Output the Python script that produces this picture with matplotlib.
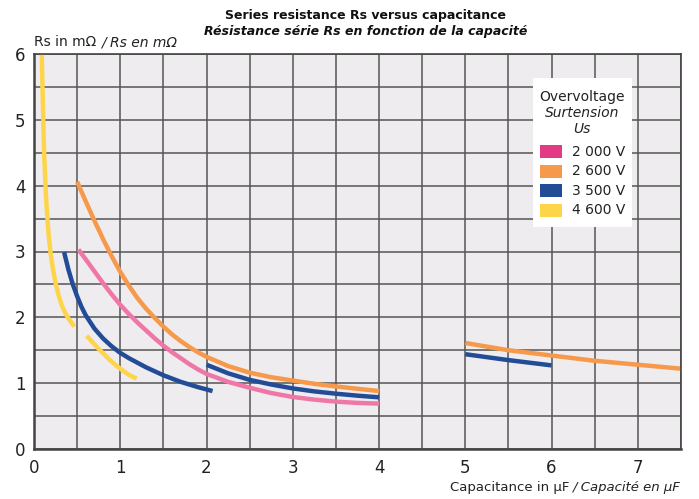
import matplotlib
matplotlib.use('Agg')
import matplotlib.pyplot as plt
from matplotlib.patches import Rectangle

# ---------------------------
# DATA
# ---------------------------
# 2 000 V
pink_x = [0.515, 0.60, 0.70, 0.80, 0.90, 1.00, 1.10, 1.20, 1.30, 1.40, 1.50, 1.60,
          1.70, 1.80, 1.90, 2.00, 2.25, 2.50, 2.75, 3.00, 3.25, 3.50, 3.75, 4.00]
pink_y = [3.03, 2.88, 2.70, 2.52, 2.35, 2.19, 2.05, 1.92, 1.80, 1.68, 1.57, 1.47,
          1.38, 1.29, 1.21, 1.14, 1.02, 0.93, 0.85, 0.79, 0.75, 0.72, 0.70, 0.69]

# 2 600 V
orange_x = [0.50, 0.60, 0.70, 0.80, 0.90, 1.00, 1.10, 1.20, 1.30, 1.40, 1.50, 1.60,
            1.70, 1.80, 1.90, 2.00, 2.25, 2.50, 2.75, 3.00, 3.25, 3.50, 3.75, 4.00]
orange_y = [4.06, 3.76, 3.47, 3.19, 2.93, 2.69, 2.48, 2.29, 2.13, 1.99, 1.86, 1.74,
            1.64, 1.55, 1.47, 1.40, 1.26, 1.16, 1.09, 1.04, 0.99, 0.95, 0.915, 0.88]
orange2_x = [5.0, 5.5, 6.0, 6.5, 7.0, 7.5]
orange2_y = [1.61, 1.50, 1.42, 1.34, 1.28, 1.22]

# 3 500 V
blue_x = [0.349, 0.40, 0.45, 0.50, 0.55, 0.60, 0.70, 0.80, 0.90, 1.00, 1.10, 1.20,
          1.30, 1.40, 1.50, 1.60, 1.70, 1.80, 1.90, 2.00, 2.07]
blue_y = [2.99, 2.72, 2.50, 2.32, 2.16, 2.03, 1.83, 1.68, 1.56, 1.46, 1.38, 1.31,
          1.24, 1.18, 1.12, 1.07, 1.02, 0.98, 0.94, 0.905, 0.88]
blue2_x = [2.0, 2.25, 2.5, 2.75, 3.0, 3.25, 3.5, 3.75, 4.0]
blue2_y = [1.28, 1.15, 1.05, 0.98, 0.92, 0.875, 0.84, 0.81, 0.785]
blue3_x = [5.0, 5.5, 6.0]
blue3_y = [1.44, 1.35, 1.27]

# 4 600 V
yellow_x = [0.09, 0.10, 0.11, 0.12, 0.135, 0.15, 0.17, 0.19, 0.22, 0.25, 0.28, 0.32,
            0.36, 0.40, 0.44, 0.47]
yellow_y = [6.00, 5.40, 4.85, 4.40, 3.95, 3.60, 3.25, 3.00, 2.73, 2.52, 2.36, 2.19,
            2.07, 1.98, 1.91, 1.86]
yellow2_x = [0.61, 0.68, 0.75, 0.82, 0.88, 0.96, 1.03, 1.11, 1.19]
yellow2_y = [1.72, 1.62, 1.52, 1.43, 1.35, 1.26, 1.19, 1.12, 1.07]

legend_labels = ['2 000 V', '2 600 V', '3 500 V', '4 600 V']

PINK = '#ee77a8'
PINK_LEG = '#e33b83'
ORANGE = '#f7994a'
BLUE = '#234c97'
YELLOW = '#fdd44a'

fig = plt.figure(figsize=(6.99, 4.99), dpi=100)
ax = fig.add_axes([34 / 699, 50 / 499, 647 / 699, 395 / 499])
ax.set_facecolor('#eeecef')

ax.set_xlim(0, 7.5)
ax.set_ylim(0, 6)
ax.set_xticks(range(0, 8))
ax.set_yticks(range(0, 7))
ax.set_xticks([i * 0.5 for i in range(16)], minor=True)
ax.set_yticks([i * 0.5 for i in range(13)], minor=True)
ax.grid(True, which='both', color='#555555', lw=1.1, zorder=0)
ax.set_axisbelow(True)
ax.tick_params(which='both', length=0)
ax.tick_params(axis='x', labelsize=12, pad=7, colors='#222222')
ax.tick_params(axis='y', labelsize=12, pad=6, colors='#222222')
for s in ax.spines.values():
    s.set_color('#444444')
    s.set_linewidth(1.2)
for s in ['left', 'bottom']:
    ax.spines[s].set_linewidth(1.8)

lw = 3.2
ax.plot(yellow_x, yellow_y, color=YELLOW, lw=lw, solid_capstyle='butt')
ax.plot(yellow2_x, yellow2_y, color=YELLOW, lw=lw, solid_capstyle='butt')
ax.plot(pink_x, pink_y, color=PINK, lw=lw, solid_capstyle='butt')
ax.plot(orange_x, orange_y, color=ORANGE, lw=lw, solid_capstyle='butt')
ax.plot(orange2_x, orange2_y, color=ORANGE, lw=lw, solid_capstyle='butt', clip_on=False)
ax.plot(blue_x, blue_y, color=BLUE, lw=lw, solid_capstyle='butt')
ax.plot(blue2_x, blue2_y, color=BLUE, lw=lw, solid_capstyle='butt')
ax.plot(blue3_x, blue3_y, color=BLUE, lw=lw, solid_capstyle='butt')

# ---------------------------
# Legend box (hand made)
# ---------------------------
ax.add_patch(Rectangle((0.771, 0.562), 0.153, 0.377, transform=ax.transAxes,
                       facecolor='white', edgecolor='none', zorder=5))
ax.text(0.847, 0.890, 'Overvoltage', transform=ax.transAxes, ha='center',
        va='center', fontsize=10, color='#222222', zorder=6)
ax.text(0.847, 0.850, 'Surtension', transform=ax.transAxes, ha='center',
        va='center', fontsize=10, style='italic', color='#222222', zorder=6)
ax.text(0.847, 0.809, 'Us', transform=ax.transAxes, ha='center',
        va='center', fontsize=10, style='italic', color='#222222', zorder=6)
leg_colors = [PINK_LEG, ORANGE, BLUE, YELLOW]
row_y = [0.753, 0.703, 0.654, 0.605]
for lab, c, yy in zip(legend_labels, leg_colors, row_y):
    ax.add_patch(Rectangle((0.782, yy - 0.0165), 0.0336, 0.033, transform=ax.transAxes,
                           facecolor=c, edgecolor='none', zorder=6))
    ax.text(0.8315, yy, lab, transform=ax.transAxes, ha='left', va='center',
            fontsize=10, color='#222222', zorder=6)

# ---------------------------
# Titles and axis labels
# ---------------------------
fig.text(0.523, 0.968, 'Series resistance Rs versus capacitance', ha='center',
         va='center', fontsize=9, fontweight='bold', color='#111111')
fig.text(0.523, 0.937, 'Résistance série Rs en fonction de la capacité', ha='center',
         va='center', fontsize=9, fontweight='bold', style='italic', color='#111111')

fig.canvas.draw()
renderer = fig.canvas.get_renderer()

# y label: regular + italic
t1 = fig.text(34 / 699, 1 - 42 / 499, 'Rs in mΩ ', ha='left', va='center',
              fontsize=10, color='#222222')
bb = t1.get_window_extent(renderer=renderer)
fig.text(bb.x1 / fig.bbox.width, 1 - 42 / 499, '/ Rs en mΩ', ha='left', va='center',
         fontsize=10, style='italic', color='#222222')

# x label: regular + italic, right aligned to the axes edge
t2 = fig.text(681 / 699, 1 - 488 / 499, '/ Capacité en μF', ha='right', va='center',
              fontsize=9.5, style='italic', color='#222222')
bb = t2.get_window_extent(renderer=renderer)
fig.text(bb.x0 / fig.bbox.width, 1 - 488 / 499, 'Capacitance in μF ', ha='right',
         va='center', fontsize=9.5, color='#222222')

plt.savefig('out.png', dpi=100)
plt.close()
